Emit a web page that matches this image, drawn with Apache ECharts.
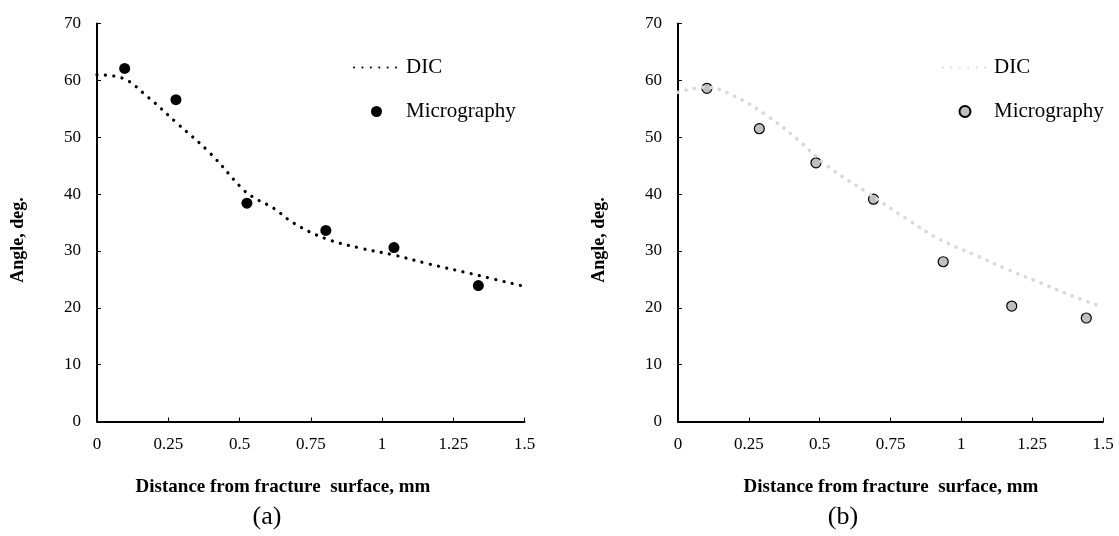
<!DOCTYPE html>
<html>
<head>
<meta charset="utf-8">
<script src="https://cdn.jsdelivr.net/npm/echarts@6/dist/echarts.min.js"></script>
<style>
html,body{margin:0;padding:0;background:#fff;}
#chart{width:1119px;height:536px;}
</style>
</head>
<body>
<div id="chart"></div>
<script>
// Panel (a)
const dicA = [[0,61.0],[0.088,60.4],[0.18,57.0],[0.28,52.5],[0.397,47.2],[0.503,41.3],[0.543,39.6],[0.62,37.5],[0.69,34.9],[0.8,32.2],[0.923,30.5],[1.04,29.3],[1.157,27.8],[1.338,25.7],[1.496,23.8]];
const microA = [[0.097,62.1],[0.277,56.6],[0.526,38.4],[0.803,33.6],[1.042,30.6],[1.338,23.9]];
// Panel (b)
const dicB = [[0,57.9],[0.1,58.8],[0.196,57.3],[0.314,53.8],[0.42,49.7],[0.526,45.0],[0.667,40.3],[0.808,35.6],[0.925,32.0],[1.043,29.4],[1.16,26.8],[1.278,24.4],[1.395,22.0],[1.495,20.2]];
const microB = [[0.102,58.6],[0.287,51.5],[0.487,45.5],[0.69,39.1],[0.936,28.1],[1.178,20.3],[1.441,18.2]];
// Texts
const seriesNames = ['DIC','Micrography'];
const xTitle = 'Distance from fracture  surface, mm';
const yTitle = 'Angle, deg.';
const captions = ['(a)','(b)'];

const FONT = '"Liberation Serif","Times New Roman",serif';
const chart = echarts.init(document.getElementById('chart'), null, {renderer:'canvas'});

function xAx(i){
  return {gridIndex:i,type:'value',min:0,max:1.5,interval:0.25,
    axisLine:{show:true,onZero:false,lineStyle:{color:'#000',width:2}},
    axisTick:{show:true,inside:true,length:4,lineStyle:{color:'#000',width:1}},
    splitLine:{show:false},
    axisLabel:{color:'#000',fontFamily:FONT,fontSize:17,margin:15}};
}
function yAx(i){
  return {gridIndex:i,type:'value',min:0,max:70,interval:10,
    axisLine:{show:true,lineStyle:{color:'#000',width:2}},
    axisTick:{show:true,inside:true,length:4,lineStyle:{color:'#000',width:1}},
    splitLine:{show:false},
    axisLabel:{color:'#000',fontFamily:FONT,fontSize:17,margin:16}};
}
function legend(left,top,w,tag){
  return {orient:'vertical',left:left,top:top,itemWidth:w,itemHeight:11,itemGap:23,
    data:[{name:seriesNames[0]+tag,itemStyle:{opacity:0}},{name:seriesNames[1]+tag}],
    formatter:n=>n.split('|')[0],
    textStyle:{fontFamily:FONT,fontSize:21,color:'#000',padding:[0,0,0,2]},
    selectedMode:false};
}

chart.setOption({
  animation:false,
  backgroundColor:'#fff',
  grid:[
    {left:97,top:23.5,width:427.5,height:398,containLabel:false},
    {left:678,top:23.5,width:425,height:398,containLabel:false}
  ],
  xAxis:[xAx(0),xAx(1)],
  yAxis:[yAx(0),yAx(1)],
  legend:[legend(348,52,45,'|a'),legend(937,52,44,'|b')],
  series:[
    {name:seriesNames[0]+'|a',type:'line',xAxisIndex:0,yAxisIndex:0,data:dicA,smooth:0.4,
     symbol:'none',lineStyle:{color:'#000',width:3.2,type:[0.1,8.3],cap:'round'},itemStyle:{color:'#000'}},
    {name:seriesNames[1]+'|a',type:'scatter',xAxisIndex:0,yAxisIndex:0,data:microA,
     symbol:'circle',symbolSize:11,itemStyle:{color:'#000',opacity:1}},
    {name:seriesNames[0]+'|b',type:'line',xAxisIndex:1,yAxisIndex:1,data:dicB,smooth:0.4,
     symbol:'none',lineStyle:{color:'#d9d9d9',width:3.6,type:[0.1,8.3],cap:'round'},itemStyle:{color:'#d9d9d9'}},
    {name:seriesNames[1]+'|b',type:'scatter',xAxisIndex:1,yAxisIndex:1,data:microB,
     symbol:'circle',symbolSize:10,itemStyle:{color:'#bfbfbf',borderColor:'#000',borderWidth:1.2,opacity:1}}
  ],
  graphic:[
    {type:'text',x:283,y:487,style:{text:xTitle,font:'bold 19px '+FONT,fill:'#000',align:'center',verticalAlign:'middle'}},
    {type:'text',x:891,y:487,style:{text:xTitle,font:'bold 19px '+FONT,fill:'#000',align:'center',verticalAlign:'middle'}},
    {type:'text',x:18,y:240,rotation:Math.PI/2,style:{text:yTitle,font:'bold 18px '+FONT,fill:'#000',align:'center',verticalAlign:'middle'}},
    {type:'text',x:599,y:240,rotation:Math.PI/2,style:{text:yTitle,font:'bold 18px '+FONT,fill:'#000',align:'center',verticalAlign:'middle'}},
    {type:'text',x:267,y:517,style:{text:captions[0],font:'26px '+FONT,fill:'#000',align:'center',verticalAlign:'middle'}},
    {type:'text',x:843,y:517,style:{text:captions[1],font:'26px '+FONT,fill:'#000',align:'center',verticalAlign:'middle'}}
  ]
});
</script>
</body>
</html>
